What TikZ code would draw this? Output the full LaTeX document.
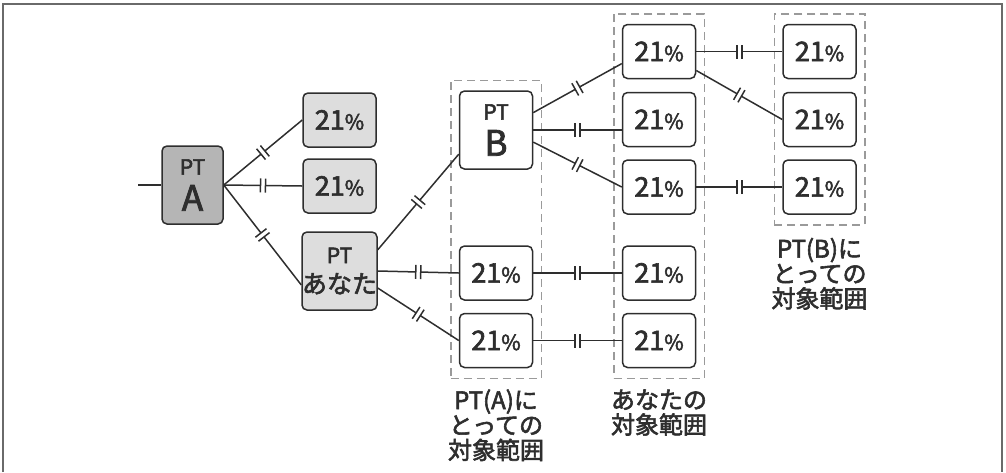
\documentclass[tikz,border=0pt]{standalone}
\usepackage{fontspec}
\newfontfamily\jpfont[FakeBold=2.4]{Noto Sans CJK JP}
\usetikzlibrary{fit,positioning,decorations.markings}

\definecolor{boxline}{HTML}{2E2E2E}
\definecolor{darkfill}{HTML}{B5B5B5}
\definecolor{lightfill}{HTML}{DDDDDD}
\definecolor{dashcol}{HTML}{9A9A9A}
\definecolor{framecol}{HTML}{6A6A6A}

\newcommand\pcnt{21{\fontsize{10.5}{11}\selectfont\%}}
\newcommand\ptlabel[2]{{\fontsize{10.5}{11}\selectfont PT}\\[4pt]{\fontsize{#1}{#1}\selectfont #2}}

\begin{document}
\begin{tikzpicture}
    [ x=0.5pt, y=-0.5pt
    , box/.style={draw=boxline, line width=0.75pt, rounded corners=2.5pt, inner sep=0pt,
        minimum width=36.5pt, minimum height=27pt, text=boxline,
        font=\jpfont\fontsize{13.5}{14}\selectfont}
    , ptbox/.style={box, minimum height=39pt, align=center}
    , wire/.style={draw=boxline, line width=0.75pt}
    , link/.style={wire, postaction={decorate}, decoration={markings, mark=at position 0.5 with {
        \fill[white] (-1.25pt,-1pt) rectangle (1.25pt,1pt);
        \draw[boxline, line width=0.75pt] (-1.25pt,-3.5pt) -- (-1.25pt,3.5pt)
                                          (1.25pt,-3.5pt) -- (1.25pt,3.5pt);}}}
    , scopebox/.style={draw=dashcol, line width=0.75pt, dash pattern=on 4pt off 2.5pt,
        inner xsep=4pt, inner ysep=5pt}
    , scopelabel/.style={align=center, inner sep=0pt, text=boxline,
        font=\jpfont\fontsize{12}{12.5}\selectfont}
    ]
  \useasboundingbox (0,0) rectangle (1006,472);
  \draw[framecol, line width=1pt] (2.5,472) -- (2.5,3.5) -- (1002,3.5) -- (1002,472);

  % left part
  \node[ptbox, fill=darkfill, minimum width=30.5pt] (A) at (192.5,185) {\ptlabel{17.5}{A}};
  \node[box, fill=lightfill] (g1) at (339.5,120) {\pcnt};
  \node[box, fill=lightfill] (g2) at (339.5,186) {\pcnt};
  \node[ptbox, fill=lightfill] (you) at (339.5,271)
    {{\fontsize{10.5}{11}\selectfont PT}\\[1pt]{\fontsize{12.5}{13}\selectfont あなた}};

  % scope of PT(A)
  \node[ptbox] (B) at (496,130) {\ptlabel{17.5}{B}};
  \node[box] (a1) at (496,273) {\pcnt};
  \node[box] (a2) at (496,340.5) {\pcnt};

  % your scope
  \node[box] (c1) at (659,51.5) {\pcnt};
  \node[box] (c2) at (659,119.5) {\pcnt};
  \node[box] (c3) at (659,187) {\pcnt};
  \node[box] (c4) at (659,273) {\pcnt};
  \node[box] (c5) at (659,340.5) {\pcnt};

  % scope of PT(B)
  \node[box] (d1) at (819.5,51.5) {\pcnt};
  \node[box] (d2) at (819.5,119.5) {\pcnt};
  \node[box] (d3) at (819.5,187) {\pcnt};

  \node[scopebox, fit=(B)(a2)] (fitA) {};
  \node[scopebox, fit=(c1)(c5)] (fitYou) {};
  \node[scopebox, fit=(d1)(d3)] (fitB) {};

  \node[scopelabel, below=5pt of fitA] (labA) {PT(A)に\\とっての\\対象範囲};
  \node[scopelabel, below=5pt of fitYou] (labYou) {あなたの\\対象範囲};
  \node[scopelabel, below=6pt of fitB] (labB) {PT(B)に\\とっての\\対象範囲};

  % connectors
  \coordinate (in) at (138,185);
  \draw[wire] (in) -- (A.west);
  \draw[link] (A.east) -- (g1.west);
  \draw[link] (A.east) -- (g2.west);
  \draw[link] (A.east) -- (you.200);
  \draw[link] (you.29) -- (B.213);
  \draw[link] (you.east) -- (a1.west);
  \draw[link] (you.-24) -- (a2.west);
  \draw[link] (B.25) -- (c1.198);
  \draw[link] (B.east) -- (B.east -| c2.west);
  \draw[link] (B.-18) -- (c3.west);
  \draw[link] (a1.east) -- (c4.west);
  \draw[link] (a2.east) -- (c5.west);
  \draw[link] (c1.east) -- (d1.west);
  \draw[link] (c1.-27) -- (d2.west);
  \draw[link] (c3.east) -- (d3.west);
\end{tikzpicture}
\end{document}
